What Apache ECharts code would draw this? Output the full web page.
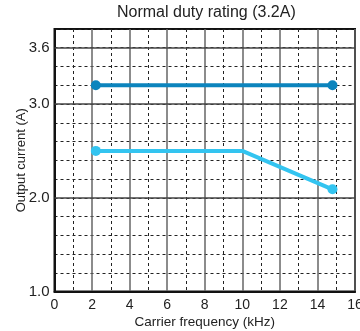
<!DOCTYPE html>
<html>
<head>
<meta charset="utf-8">
<script src="https://cdn.jsdelivr.net/npm/echarts@6/dist/echarts.min.js"></script>
<style>
html,body{margin:0;padding:0;background:#fff;}
#chart{width:360px;height:331px;}
</style>
</head>
<body>
<div id="chart"></div>
<script>
// Data
var titleText = 'Normal duty rating (3.2A)';
var xName = 'Carrier frequency (kHz)';
var yName = 'Output current (A)';

var upperX = [2.2, 14.8];
var upperY = [3.2, 3.2];

var lowerX = [2.2, 10, 14.8];
var lowerY = [2.5, 2.5, 2.09];
var lowerDots = [true, false, true];

var yLabelValues = [1.0, 2.0, 3.0, 3.6];
var ySolidLines = [2.0, 3.0, 3.6];

var FONT = "'Liberation Sans', Arial, Helvetica, sans-serif";

function pairs(xs, ys) {
  return xs.map(function (x, i) { return [x, ys[i]]; });
}

var chart = echarts.init(document.getElementById('chart'), null, {renderer: 'canvas'});

var option = {
  animation: false,
  backgroundColor: '#fff',
  title: {
    text: titleText,
    left: 117,
    top: 5,
    padding: 0,
    textStyle: {fontFamily: FONT, fontSize: 16, fontWeight: 'normal', color: '#222'}
  },
  grid: {
    left: 54.5, right: 5, top: 29, bottom: 39.5,
    outerBoundsMode: 'none',
    show: true, borderColor: '#111', borderWidth: 2, backgroundColor: 'transparent'
  },
  xAxis: [{
    type: 'value', min: 0, max: 16, interval: 2,
    name: xName, nameLocation: 'middle', nameGap: 24, nameMoveOverlap: false,
    nameTextStyle: {fontFamily: FONT, fontSize: 13.5, color: '#222'},
    axisLine: {show: true, lineStyle: {color: '#111', width: 2}},
    axisTick: {show: false},
    axisLabel: {fontFamily: FONT, fontSize: 14, color: '#222', margin: 7, alignMaxLabel: 'center', hideOverlap: false},
    splitLine: {show: true, lineStyle: {color: '#666', width: 1.5, type: 'solid'}}
  }, {
    type: 'value', min: 0, max: 16, interval: 1, position: 'bottom',
    axisLine: {show: false}, axisTick: {show: false}, axisLabel: {show: false},
    splitLine: {show: true, lineStyle: {color: ['transparent', '#222'], width: 1, type: [3, 3]}}
  }],
  yAxis: {
    type: 'value', min: 1.0, max: 3.8, interval: 0.2,
    name: yName, nameLocation: 'middle', nameGap: 27, nameRotate: 90, nameMoveOverlap: false,
    nameTextStyle: {fontFamily: FONT, fontSize: 13, color: '#222'},
    axisLine: {show: true, lineStyle: {color: '#111', width: 2}},
    axisTick: {show: false},
    axisLabel: {
      fontFamily: FONT, fontSize: 15, color: '#222', margin: 5,
      formatter: function (v) {
        for (var i = 0; i < yLabelValues.length; i++) {
          if (Math.abs(v - yLabelValues[i]) < 1e-6) return yLabelValues[i].toFixed(1);
        }
        return '';
      }
    },
    splitLine: {show: true, lineStyle: {color: '#222', width: 1, type: [3, 3]}}
  },
  series: [{
    type: 'line', data: [], silent: true, z: 1,
    markLine: {
      silent: true, symbol: 'none', label: {show: false},
      lineStyle: {color: '#444', width: 1.5, type: 'solid'},
      data: ySolidLines.map(function (v) { return {yAxis: v}; })
    }
  }, {
    type: 'line',
    data: pairs(upperX, upperY),
    symbol: 'circle', symbolSize: 10,
    lineStyle: {color: '#0c84bd', width: 4},
    itemStyle: {color: '#0c84bd'},
    z: 5
  }, {
    type: 'line',
    data: pairs(lowerX, lowerY),
    symbol: 'circle',
    symbolSize: function (val, params) { return lowerDots[params.dataIndex] ? 10 : 0; },
    lineStyle: {color: '#33c4f0', width: 4},
    itemStyle: {color: '#33c4f0'},
    z: 5
  }]
};
chart.setOption(option);
</script>
</body>
</html>
